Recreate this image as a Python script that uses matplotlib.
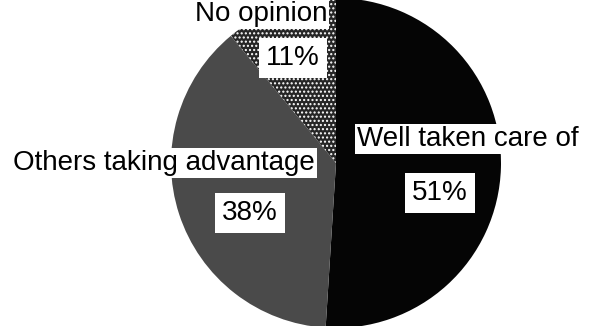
import matplotlib
matplotlib.use("Agg")
import matplotlib.pyplot as plt

plt.rcParams['font.family'] = ['Liberation Sans', 'DejaVu Sans']

categories = ["Well taken care of", "Others taking advantage", "No opinion"]
values = [51, 38, 11]
pct_labels = ["51%", "38%", "11%"]

W, H = 589, 326
fig = plt.figure(figsize=(W / 100, H / 100), dpi=100)
fig.patch.set_facecolor('white')

cx, cy, R = 336, 163, 165
ax = fig.add_axes([(cx - R) / W, (H - cy - R) / H, 2 * R / W, 2 * R / H])
wedges, _ = ax.pie(values, startangle=90, counterclock=False, radius=1,
                   colors=['#050505', '#4a4a4a', '#262626'],
                   wedgeprops=dict(linewidth=0))
wedges[2].set_hatch('....')
wedges[2].set_edgecolor('white')
wedges[2].set_linewidth(0)
ax.set_xlim(-1, 1)
ax.set_ylim(-1, 1)
ax.axis('off')

def px(x, y):
    return x / W, 1 - y / H

box = dict(facecolor='white', edgecolor='none', pad=1.5)
fs = 20
# category labels
fig.text(*px(261, 14), categories[2], ha='center', va='center', fontsize=fs, bbox=box)
fig.text(*px(468, 139), categories[0], ha='center', va='center', fontsize=fs, bbox=box)
fig.text(*px(164, 163), categories[1], ha='center', va='center', fontsize=fs, bbox=box)
# percentage labels
box2 = dict(facecolor='white', edgecolor='none', pad=5)
fig.text(*px(293, 58), pct_labels[2], ha='center', va='center', fontsize=fs, bbox=box2)
fig.text(*px(440, 193), pct_labels[0], ha='center', va='center', fontsize=fs, bbox=box2)
fig.text(*px(250, 213), pct_labels[1], ha='center', va='center', fontsize=fs, bbox=box2)

fig.savefig('out.png', dpi=100)
